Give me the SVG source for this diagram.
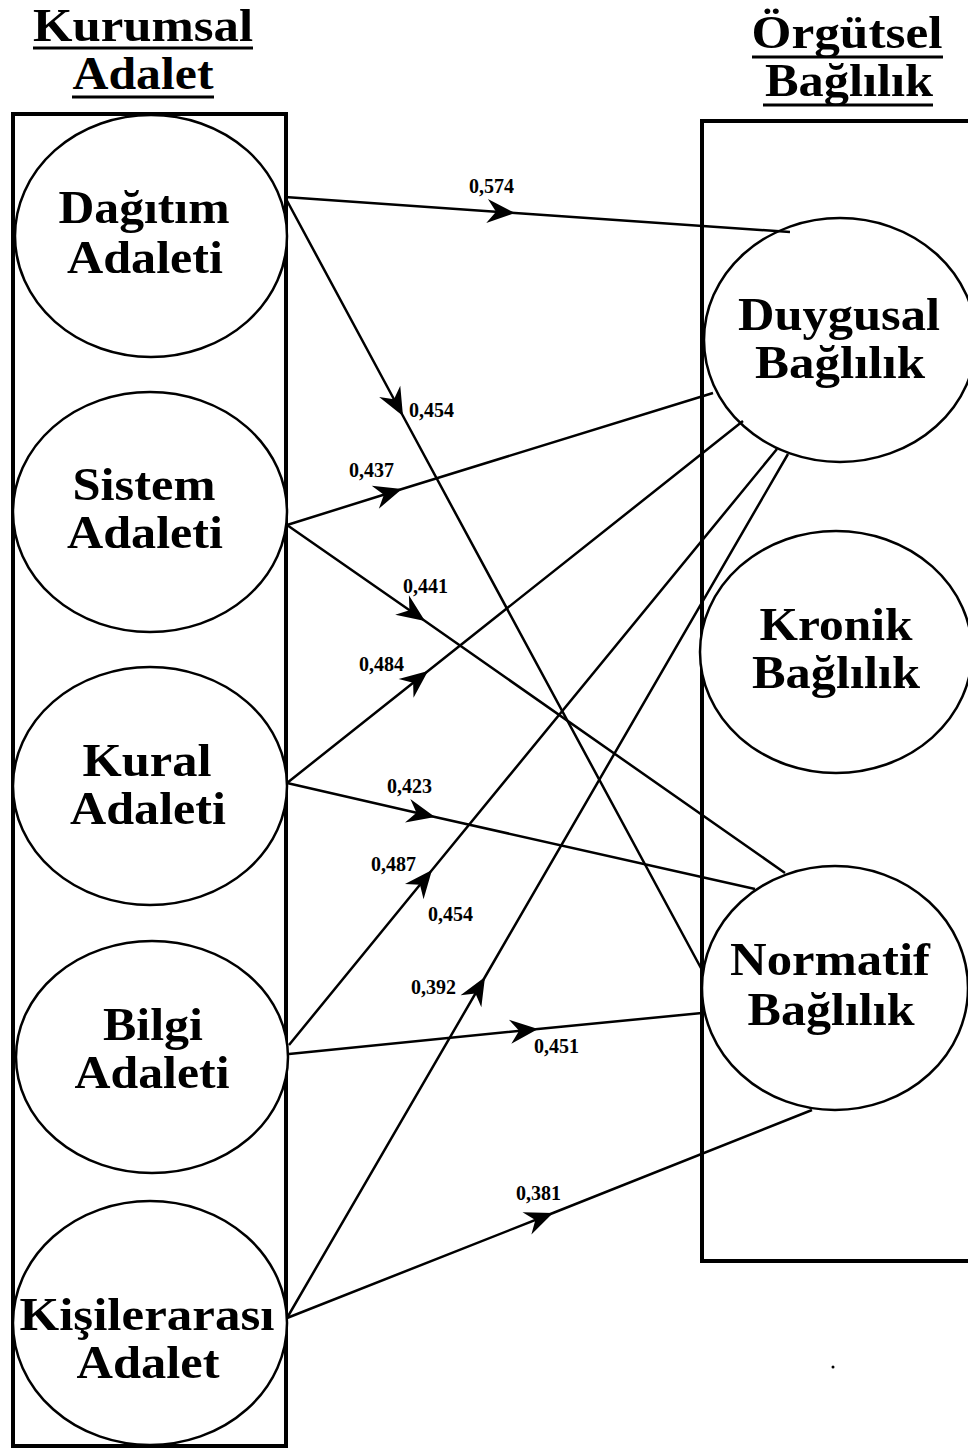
<svg xmlns="http://www.w3.org/2000/svg" width="968" height="1450" viewBox="0 0 968 1450">
<style>
.box{fill:none;stroke:#000;stroke-width:4}
.node ellipse{fill:#fff;stroke:#000;stroke-width:2.5}
.lbl{font-family:"Liberation Serif","Times New Roman",serif;font-weight:bold;font-size:47px;text-anchor:middle;fill:#000}
.hdr{font-family:"Liberation Serif","Times New Roman",serif;font-weight:bold;font-size:46px;text-anchor:middle;fill:#000}
.num{font-family:"Liberation Serif","Times New Roman",serif;font-weight:bold;font-size:20px;fill:#000}
.ul{stroke:#000;stroke-width:3}
#connectors path{fill:none;stroke:#000;stroke-width:2.5;marker-mid:url(#ah)}
</style>
<defs>
<marker id="ah" markerUnits="userSpaceOnUse" viewBox="-32 -15 34 30" refX="0" refY="0" markerWidth="34" markerHeight="30" orient="auto">
<path d="M0,0 L-28,-12 L-19,0 L-28,12 Z" fill="#000"/>
</marker>
</defs>
<rect width="968" height="1450" fill="#fff"/>

<g id="headers">
<text class="hdr" x="143" y="41" textLength="220" lengthAdjust="spacingAndGlyphs">Kurumsal</text>
<line class="ul" x1="33" y1="48" x2="253" y2="48"/>
<text class="hdr" x="143" y="89" textLength="141" lengthAdjust="spacingAndGlyphs">Adalet</text>
<line class="ul" x1="72" y1="97" x2="214" y2="97"/>
<text class="hdr" x="847" y="48" textLength="191" lengthAdjust="spacingAndGlyphs">Örgütsel</text>
<line class="ul" x1="752" y1="57" x2="943" y2="57"/>
<text class="hdr" x="849" y="96" textLength="168" lengthAdjust="spacingAndGlyphs">Bağlılık</text>
<line class="ul" x1="763" y1="105" x2="933" y2="105"/>
</g>

<g id="groups">
<rect class="box" x="13" y="114" width="273" height="1332"/>
<rect class="box" x="702" y="121" width="300" height="1140"/>
</g>

<g id="n-dagitim" class="node">
<ellipse cx="151" cy="236" rx="136" ry="121"/>
<text class="lbl" x="144" y="223" textLength="171" lengthAdjust="spacingAndGlyphs">Dağıtım</text>
<text class="lbl" x="145" y="273" textLength="156" lengthAdjust="spacingAndGlyphs">Adaleti</text>
</g>
<g id="n-sistem" class="node">
<ellipse cx="150" cy="512" rx="137" ry="120"/>
<text class="lbl" x="144" y="500" textLength="143" lengthAdjust="spacingAndGlyphs">Sistem</text>
<text class="lbl" x="145" y="548" textLength="156" lengthAdjust="spacingAndGlyphs">Adaleti</text>
</g>
<g id="n-kural" class="node">
<ellipse cx="150" cy="786" rx="137" ry="119"/>
<text class="lbl" x="147" y="776" textLength="129" lengthAdjust="spacingAndGlyphs">Kural</text>
<text class="lbl" x="148" y="824" textLength="156" lengthAdjust="spacingAndGlyphs">Adaleti</text>
</g>
<g id="n-bilgi" class="node">
<ellipse cx="152" cy="1057" rx="136" ry="116"/>
<text class="lbl" x="153" y="1040" textLength="100" lengthAdjust="spacingAndGlyphs">Bilgi</text>
<text class="lbl" x="152" y="1088" textLength="155" lengthAdjust="spacingAndGlyphs">Adaleti</text>
</g>
<g id="n-kisilerarasi" class="node">
<ellipse cx="150" cy="1323" rx="137" ry="122"/>
<text class="lbl" x="147" y="1330" textLength="255" lengthAdjust="spacingAndGlyphs">Kişilerarası</text>
<text class="lbl" x="148" y="1378" textLength="143" lengthAdjust="spacingAndGlyphs">Adalet</text>
</g>

<g id="n-duygusal" class="node">
<ellipse cx="840" cy="340" rx="136" ry="122"/>
<text class="lbl" x="839" y="330" textLength="202" lengthAdjust="spacingAndGlyphs">Duygusal</text>
<text class="lbl" x="840" y="378" textLength="170" lengthAdjust="spacingAndGlyphs">Bağlılık</text>
</g>
<g id="n-kronik" class="node">
<ellipse cx="836" cy="652" rx="136" ry="121"/>
<text class="lbl" x="836" y="640" textLength="153" lengthAdjust="spacingAndGlyphs">Kronik</text>
<text class="lbl" x="836" y="688" textLength="168" lengthAdjust="spacingAndGlyphs">Bağlılık</text>
</g>
<g id="n-normatif" class="node">
<ellipse cx="835" cy="988" rx="133" ry="122"/>
<text class="lbl" x="830" y="975" textLength="200" lengthAdjust="spacingAndGlyphs">Normatif</text>
<text class="lbl" x="831" y="1025" textLength="167" lengthAdjust="spacingAndGlyphs">Bağlılık</text>
</g>

<g id="connectors">
<path d="M285,197 L515,213 L790,232"/>
<path d="M285,197 L403,416 L702,970"/>
<path d="M287,525 L402,489 L713,393"/>
<path d="M287,525 L425,621 L785,873"/>
<path d="M287,783 L428,671 L743,421"/>
<path d="M287,783 L435,817 L755,889"/>
<path d="M289,1045 L432,870 L777,449"/>
<path d="M289,1054 L538,1029 L702,1013"/>
<path d="M287,1318 L485,977 L788,454"/>
<path d="M287,1318 L553,1213 L812,1110"/>
</g>

<g id="labels">
<text class="num" x="469" y="193">0,574</text>
<text class="num" x="409" y="417">0,454</text>
<text class="num" x="349" y="477">0,437</text>
<text class="num" x="403" y="593">0,441</text>
<text class="num" x="359" y="671">0,484</text>
<text class="num" x="387" y="793">0,423</text>
<text class="num" x="371" y="871">0,487</text>
<text class="num" x="428" y="921">0,454</text>
<text class="num" x="411" y="994">0,392</text>
<text class="num" x="534" y="1053">0,451</text>
<text class="num" x="516" y="1200">0,381</text>
</g>
<circle cx="833" cy="1367" r="1.5" fill="#000"/>
</svg>
